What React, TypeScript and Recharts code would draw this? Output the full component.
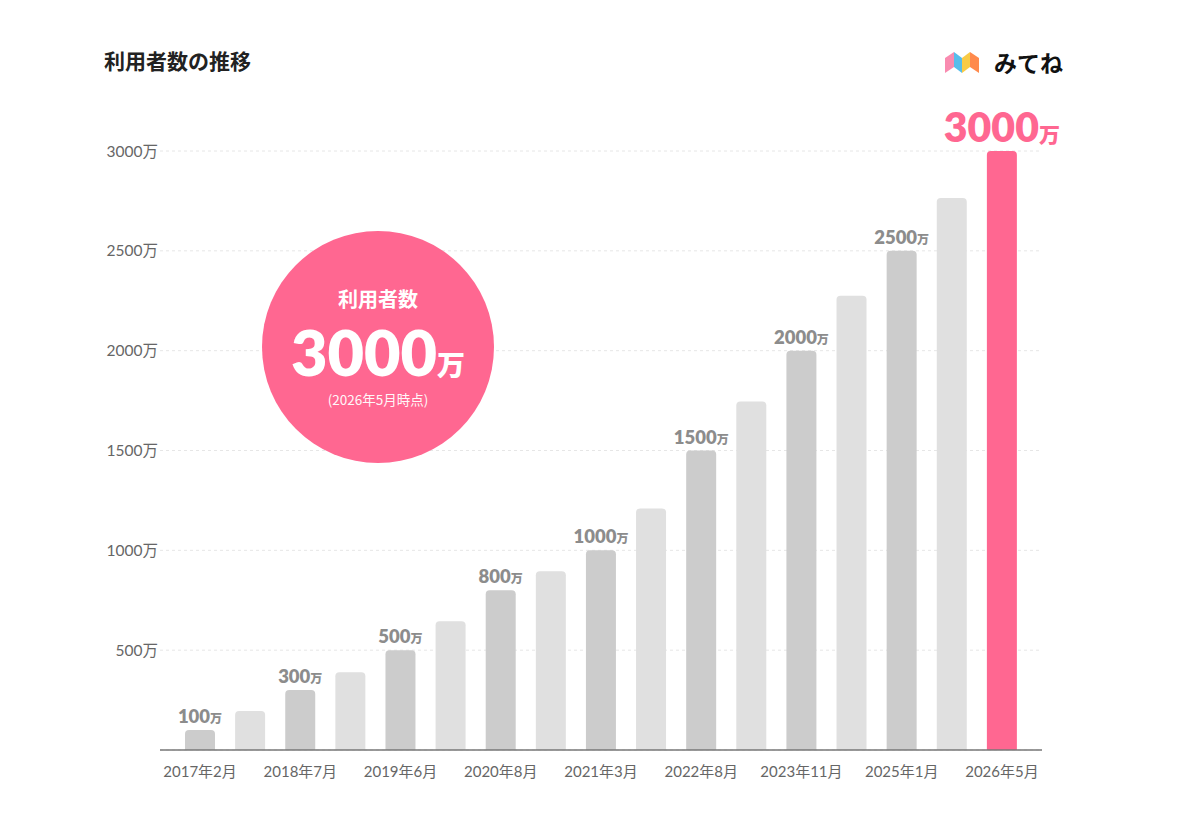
import { BarChart, Bar, XAxis, YAxis, CartesianGrid, Cell, LabelList } from 'recharts';

// 期間ラベル (奇数番目はラベルなし)
const periods = [
    '2017年2月', '', '2018年7月', '', '2019年6月', '', '2020年8月', '', '2021年3月',
    '', '2022年8月', '', '2023年11月', '', '2025年1月', '', '2026年5月',
];
// 利用者数 (万人)
const users = [100, 195, 300, 390, 500, 645, 800, 895, 1000, 1210, 1500, 1745, 2000, 2275, 2500, 2765, 3000];
const yTicks = [500, 1000, 1500, 2000, 2500, 3000];

const PINK = '#FF6791';
const FONT = 'Lato, "Noto Sans CJK JP", sans-serif';
const JP_FONT = '"Noto Sans CJK JP", sans-serif';

const data = users.map((v, i) => ({ key: i, users: v }));

const BarLabel = (props: any) => {
    const { x, y, width, value, index } = props;
    if (index % 2 === 1) return null;
    const last = index === users.length - 1;
    return (
        <text
            x={x + width / 2}
            y={y - (last ? 9 : 7)}
            textAnchor="middle"
            fill={last ? PINK : '#8c8c8c'}
            fontWeight={800}
            fontFamily={FONT}
        >
            <tspan fontSize={last ? 41 : 18.5}>{value}</tspan>
            <tspan fontSize={last ? 21 : 12} fontFamily={JP_FONT}>万</tspan>
        </text>
    );
};

function Logo() {
    return (
        <svg width={34} height={21} style={{ position: 'absolute', left: 945, top: 52 }}>
            <polygon points="0,6 9,0 9,15 0,21" fill="#F98BB0" />
            <polygon points="9,0 17,6 17,21 9,15" fill="#57BDEB" />
            <polygon points="17,6 25,0 25,15 17,21" fill="#F9CB45" />
            <polygon points="25,0 34,6 34,21 25,15" fill="#FF8A4C" />
        </svg>
    );
}

export default function App() {
    return (
        <div style={{ position: 'relative', width: 1200, height: 827, background: '#fff', fontFamily: FONT }}>
            <style>{'body{margin:0}'}</style>

            <div style={{ position: 'absolute', left: 104, top: 45, fontSize: 21, fontWeight: 700, fontFamily: JP_FONT, color: '#222', lineHeight: '30px' }}>
                利用者数の推移
            </div>

            <Logo />
            <div style={{ position: 'absolute', left: 994, top: 46, fontSize: 23, fontWeight: 700, fontFamily: JP_FONT, color: '#111', lineHeight: '32px' }}>
                みてね
            </div>

            <BarChart
                width={1200}
                height={827}
                data={data}
                margin={{ top: 151, right: 158, bottom: 37, left: 0 }}
                barCategoryGap={20}
            >
                <CartesianGrid vertical={false} stroke="#e6e6e6" strokeDasharray="3 3" />
                <XAxis
                    dataKey="key"
                    interval={0}
                    tickFormatter={(i: number) => periods[i]}
                    height={40}
                    padding={{ left: 15, right: 15 }}
                    axisLine={{ stroke: '#777', strokeWidth: 1.5 }}
                    tickLine={false}
                    tick={{ fill: '#666', fontSize: 15, fontFamily: FONT }}
                    tickMargin={10}
                />
                <YAxis
                    width={160}
                    domain={[0, 3000]}
                    ticks={yTicks}
                    axisLine={false}
                    tickLine={false}
                    tickSize={0}
                    tickMargin={2}
                    tickFormatter={(v: number) => `${v}万`}
                    tick={{ fill: '#666', fontSize: 15.5, fontFamily: FONT }}
                />
                <Bar dataKey="users" barSize={30} radius={[4, 4, 0, 0]} isAnimationActive={false}>
                    {data.map((d, i) => (
                        <Cell
                            key={d.key}
                            fill={i === users.length - 1 ? PINK : i % 2 === 0 ? '#cccccc' : '#e0e0e0'}
                        />
                    ))}
                    <LabelList dataKey="users" content={BarLabel} />
                </Bar>
            </BarChart>

            {/* 中央のサークル */}
            <div style={{ position: 'absolute', left: 262, top: 231, width: 232, height: 232, borderRadius: '50%', background: PINK, color: '#fff', textAlign: 'center' }}>
                <div style={{ position: 'absolute', top: 54, width: '100%', fontSize: 20, fontWeight: 700, fontFamily: JP_FONT, lineHeight: '28px' }}>
                    利用者数
                </div>
                <div style={{ position: 'absolute', top: 82, width: '100%', fontWeight: 800, lineHeight: '78px', whiteSpace: 'nowrap' }}>
                    <span style={{ fontSize: 63 }}>3000</span>
                    <span style={{ fontSize: 28, fontFamily: JP_FONT }}>万</span>
                </div>
                <div style={{ position: 'absolute', top: 158, width: '100%', fontSize: 13.5, fontFamily: JP_FONT, lineHeight: '20px', opacity: 0.95 }}>
                    (2026年5月時点)
                </div>
            </div>
        </div>
    );
}
